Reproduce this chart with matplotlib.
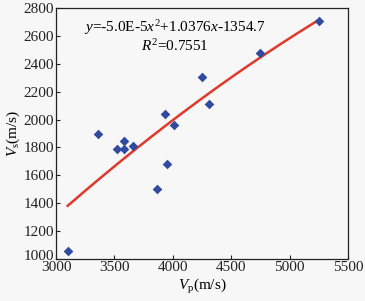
import numpy as np
import matplotlib
matplotlib.use("Agg")
import matplotlib.pyplot as plt
import matplotlib.transforms as mtransforms

plt.rcParams['font.family'] = ['Liberation Serif', 'DejaVu Serif']
plt.rcParams['mathtext.fontset'] = 'custom'
plt.rcParams['mathtext.rm'] = 'Liberation Serif'
plt.rcParams['mathtext.it'] = 'Liberation Serif:italic'

vp = [3100, 3357, 3523, 3580, 3586, 3657, 3863, 3929, 3951, 4014, 4251, 4314, 4743, 5249]
vs = [1060, 1893, 1790, 1790, 1845, 1812, 1505, 2040, 1680, 1964, 2306, 2110, 2475, 2704]
coef = [-5.0e-5, 1.0376, -1354.7]
fit_range = [3100, 5250]
xticks = [3000, 3500, 4000, 4500, 5000, 5500]
yticks = [1000, 1200, 1400, 1600, 1800, 2000, 2200, 2400, 2600, 2800]

bg = '#f7f7f7'
fs = 11
fig = plt.figure(figsize=(3.65, 3.01), dpi=100, facecolor=bg)
ax = fig.add_axes([56/365, 1-259/301, (348-56)/365, (259-8)/301])
ax.set_facecolor(bg)

xf = np.linspace(fit_range[0], fit_range[1], 200)
yf = np.polyval(coef, xf)
ax.plot(xf, yf, color='#e2382c', lw=1.8, zorder=2)
ax.scatter(vp, vs, marker='D', s=24, color='#2f4a9e', zorder=3, linewidths=0)

ax.set_xlim(3000, 5500)
ax.set_ylim(1000, 2800)
ax.set_xticks(xticks)
ax.set_yticks(yticks)
ax.tick_params(direction='in', length=3, width=0.8, labelsize=fs, pad=1.5, colors='#222222')
for s in ax.spines.values():
    s.set_linewidth(0.9)
    s.set_color('#222222')

# nudge bottom y tick label up as in reference
lab = ax.get_yticklabels()[0]
lab.set_transform(lab.get_transform() + mtransforms.ScaledTranslation(0, 4/100, fig.dpi_scale_trans))

ax.text(4019, 2657, r'$y$=-5.0E-5$x^2$+1.0376$x$-1354.7', ha='center', va='center', fontsize=fs)
ax.text(4019, 2528, r'$R^2$=0.7551', ha='center', va='center', fontsize=fs)

ax.set_xlabel(r'$V_{\rm p}$(m/s)', fontsize=fs, labelpad=2)
ax.set_ylabel(r'$V_{\rm s}$(m/s)', fontsize=fs, labelpad=1)

fig.savefig('out.png', dpi=100, facecolor=bg)
